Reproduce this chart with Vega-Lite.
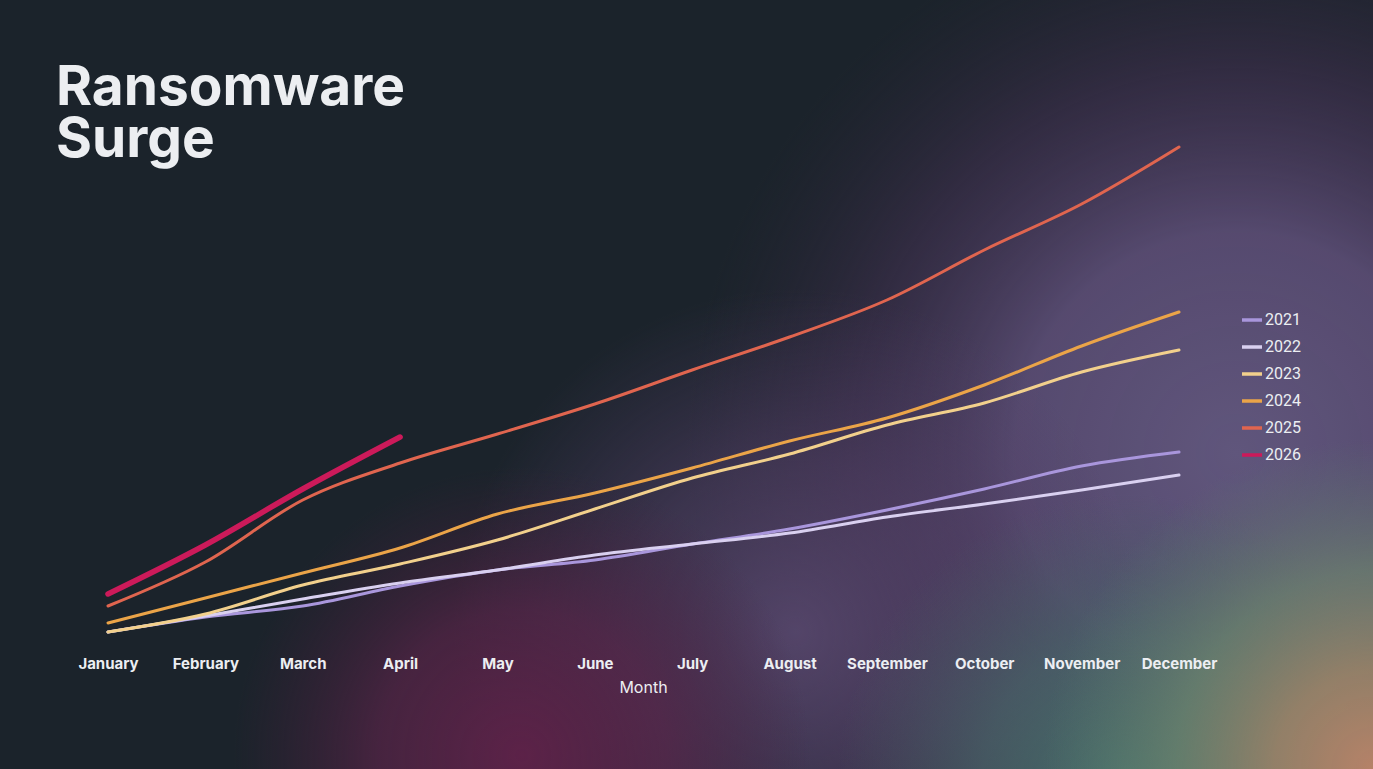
{
  "$schema": "https://vega.github.io/schema/vega-lite/v6.json",
  "width": 1373,
  "height": 769,
  "autosize": {"type": "none"},
  "padding": 0,
  "background": "#1b232b",
  "config": {
    "view": {"stroke": null},
    "font": "Inter"
  },
  "title": {
    "text": ["Ransomware", "Surge"],
    "anchor": "start",
    "frame": "group",
    "orient": "top",
    "offset": 0,
    "dx": 56,
    "dy": 169,
    "font": "Inter",
    "fontSize": 55,
    "fontWeight": "bold",
    "lineHeight": 52,
    "color": "#eceef1"
  },
  "layer": [
    {
      "data": {"values": [{"glow": "purple"}]},
      "mark": {
        "type": "rect",
        "fill": {
          "gradient": "radial",
          "x1": 0.9, "y1": 0.55, "r1": 0,
          "x2": 0.9, "y2": 0.55, "r2": 0.4,
          "stops": [
            {"offset": 0, "color": "rgba(96,86,124,1)"},
            {"offset": 0.4, "color": "rgba(92,78,118,0.9)"},
            {"offset": 0.7, "color": "rgba(72,52,88,0.5)"},
            {"offset": 1, "color": "rgba(50,38,60,0)"}
          ]
        }
      },
      "encoding": {}
    },
    {
      "data": {"values": [{"glow": "violet"}]},
      "mark": {
        "type": "rect",
        "fill": {
          "gradient": "radial",
          "x1": 0.58, "y1": 0.68, "r1": 0,
          "x2": 0.58, "y2": 0.68, "r2": 0.25,
          "stops": [
            {"offset": 0, "color": "rgba(92,74,114,0.85)"},
            {"offset": 0.5, "color": "rgba(86,66,106,0.55)"},
            {"offset": 1, "color": "rgba(80,60,100,0)"}
          ]
        }
      },
      "encoding": {}
    },
    {
      "data": {"values": [{"glow": "magenta"}]},
      "mark": {
        "type": "rect",
        "fill": {
          "gradient": "radial",
          "x1": 0.38, "y1": 0.77, "r1": 0,
          "x2": 0.38, "y2": 0.77, "r2": 0.21,
          "stops": [
            {"offset": 0, "color": "rgba(92,34,72,1)"},
            {"offset": 0.5, "color": "rgba(88,36,72,0.7)"},
            {"offset": 1, "color": "rgba(70,30,60,0)"}
          ]
        }
      },
      "encoding": {}
    },
    {
      "data": {"values": [{"glow": "teal"}]},
      "mark": {
        "type": "rect",
        "fill": {
          "gradient": "radial",
          "x1": 0.82, "y1": 0.79, "r1": 0,
          "x2": 0.82, "y2": 0.79, "r2": 0.21,
          "stops": [
            {"offset": 0, "color": "rgba(70,112,106,1)"},
            {"offset": 0.5, "color": "rgba(72,102,104,0.7)"},
            {"offset": 1, "color": "rgba(70,95,100,0)"}
          ]
        }
      },
      "encoding": {}
    },
    {
      "data": {"values": [{"glow": "corner"}]},
      "mark": {
        "type": "rect",
        "fill": {
          "gradient": "radial",
          "x1": 1.0, "y1": 0.78, "r1": 0,
          "x2": 1.0, "y2": 0.78, "r2": 0.24,
          "stops": [
            {"offset": 0, "color": "rgba(182,130,104,1)"},
            {"offset": 0.3, "color": "rgba(150,130,104,0.95)"},
            {"offset": 0.6, "color": "rgba(110,134,110,0.7)"},
            {"offset": 1, "color": "rgba(90,120,110,0)"}
          ]
        }
      },
      "encoding": {}
    },
    {
      "data": {
        "values": [
          {"month": "January", "year": "2021", "value": 18},
          {"month": "February", "year": "2021", "value": 33},
          {"month": "March", "year": "2021", "value": 44},
          {"month": "April", "year": "2021", "value": 64},
          {"month": "May", "year": "2021", "value": 80},
          {"month": "June", "year": "2021", "value": 90},
          {"month": "July", "year": "2021", "value": 106},
          {"month": "August", "year": "2021", "value": 121},
          {"month": "September", "year": "2021", "value": 140},
          {"month": "October", "year": "2021", "value": 161},
          {"month": "November", "year": "2021", "value": 184},
          {"month": "December", "year": "2021", "value": 198},
          {"month": "January", "year": "2022", "value": 18},
          {"month": "February", "year": "2022", "value": 34},
          {"month": "March", "year": "2022", "value": 51},
          {"month": "April", "year": "2022", "value": 67},
          {"month": "May", "year": "2022", "value": 80},
          {"month": "June", "year": "2022", "value": 95},
          {"month": "July", "year": "2022", "value": 106},
          {"month": "August", "year": "2022", "value": 117},
          {"month": "September", "year": "2022", "value": 133},
          {"month": "October", "year": "2022", "value": 146},
          {"month": "November", "year": "2022", "value": 160},
          {"month": "December", "year": "2022", "value": 175},
          {"month": "January", "year": "2023", "value": 18},
          {"month": "February", "year": "2023", "value": 36},
          {"month": "March", "year": "2023", "value": 65},
          {"month": "April", "year": "2023", "value": 86},
          {"month": "May", "year": "2023", "value": 110},
          {"month": "June", "year": "2023", "value": 141},
          {"month": "July", "year": "2023", "value": 172},
          {"month": "August", "year": "2023", "value": 196},
          {"month": "September", "year": "2023", "value": 225},
          {"month": "October", "year": "2023", "value": 247},
          {"month": "November", "year": "2023", "value": 278},
          {"month": "December", "year": "2023", "value": 300},
          {"month": "January", "year": "2024", "value": 27},
          {"month": "February", "year": "2024", "value": 52},
          {"month": "March", "year": "2024", "value": 77},
          {"month": "April", "year": "2024", "value": 102},
          {"month": "May", "year": "2024", "value": 136},
          {"month": "June", "year": "2024", "value": 157},
          {"month": "July", "year": "2024", "value": 182},
          {"month": "August", "year": "2024", "value": 209},
          {"month": "September", "year": "2024", "value": 232},
          {"month": "October", "year": "2024", "value": 265},
          {"month": "November", "year": "2024", "value": 304},
          {"month": "December", "year": "2024", "value": 338},
          {"month": "January", "year": "2025", "value": 44},
          {"month": "February", "year": "2025", "value": 88},
          {"month": "March", "year": "2025", "value": 150},
          {"month": "April", "year": "2025", "value": 187},
          {"month": "May", "year": "2025", "value": 216},
          {"month": "June", "year": "2025", "value": 246},
          {"month": "July", "year": "2025", "value": 280},
          {"month": "August", "year": "2025", "value": 313},
          {"month": "September", "year": "2025", "value": 350},
          {"month": "October", "year": "2025", "value": 400},
          {"month": "November", "year": "2025", "value": 446},
          {"month": "December", "year": "2025", "value": 503},
          {"month": "January", "year": "2026", "value": 56},
          {"month": "February", "year": "2026", "value": 105},
          {"month": "March", "year": "2026", "value": 161},
          {"month": "April", "year": "2026", "value": 213}
        ]
      },
      "mark": {"type": "line", "interpolate": "monotone", "strokeCap": "round"},
      "encoding": {
        "x": {
          "field": "month",
          "type": "ordinal",
          "sort": ["January", "February", "March", "April", "May", "June", "July", "August", "September", "October", "November", "December"],
          "scale": {"type": "point", "padding": 0, "range": [108, 1179]},
          "axis": {
            "orient": "bottom",
            "offset": -119,
            "zindex": 1,
            "domain": false,
            "ticks": false,
            "grid": false,
            "labelAngle": 0,
            "labelFont": "Inter",
            "labelFontSize": 15,
            "labelFontWeight": "bold",
            "labelColor": "#eceef2",
            "labelPadding": 6,
            "labelOverlap": false,
            "title": "Month",
            "titleFont": "Inter",
            "titleFontSize": 16,
            "titleFontWeight": "normal",
            "titleColor": "#eceef2",
            "titlePadding": 8,
            "titleX": 643
          }
        },
        "y": {
          "field": "value",
          "type": "quantitative",
          "scale": {"domain": [-119, 650], "nice": false, "zero": false},
          "axis": null
        },
        "color": {
          "field": "year",
          "type": "nominal",
          "scale": {
            "domain": ["2021", "2022", "2023", "2024", "2025", "2026"],
            "range": ["#a996dc", "#d9d0f0", "#f2d08c", "#eba448", "#e0654f", "#cc1a5a"]
          },
          "legend": {
            "title": null,
            "orient": "none",
            "legendX": 1240,
            "legendY": 308,
            "padding": 0,
            "zindex": 1,
            "symbolType": "stroke",
            "symbolSize": 400,
            "symbolStrokeWidth": 3.5,
            "labelFont": "Roboto",
            "labelFontSize": 16,
            "labelColor": "#eceef2",
            "labelOffset": 1,
            "rowPadding": 7
          }
        },
        "strokeWidth": {
          "condition": {"test": "datum.year === '2026'", "value": 5.5},
          "value": 3
        }
      }
    }
  ]
}
